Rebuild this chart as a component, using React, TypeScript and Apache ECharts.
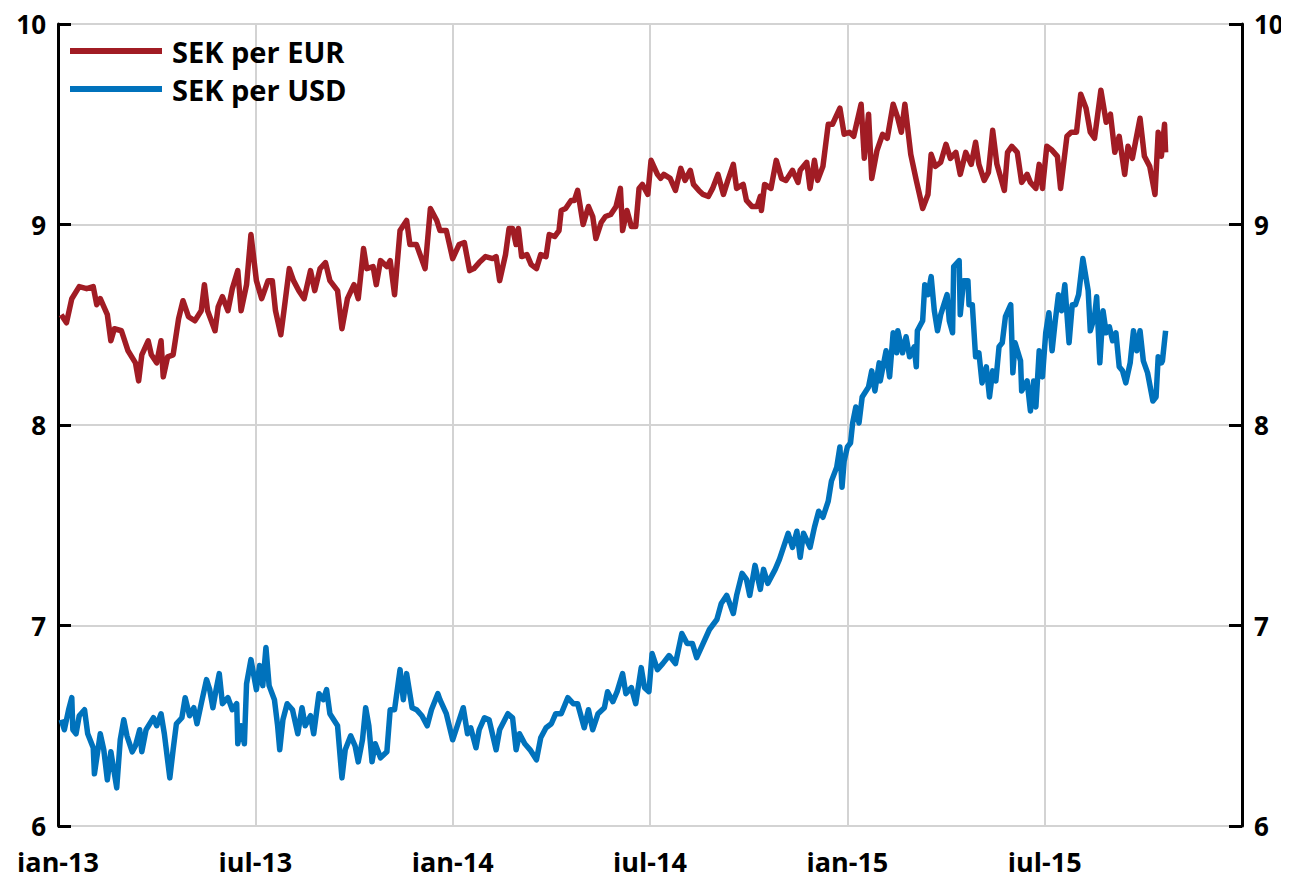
import React, { useEffect, useRef } from "react";
import * as echarts from "echarts";

// x positions are days since 1 Jan 2013
const seriesNames = ["SEK per EUR", "SEK per USD"];
const xTickLabels = ["jan-13", "jul-13", "jan-14", "jul-14", "jan-15", "jul-15"];
const yTicks = [6, 7, 8, 9, 10];

const eurSeries: [number, number][] = [
  [3,8.55],[8,8.51],[13,8.63],[20,8.69],[27,8.68],[33,8.69],[36,8.60],[39,8.63],[45,8.55],[48,8.42],[51,8.48],[57,8.47],[63,8.37],[70,8.31],[73,8.22],[76,8.35],[82,8.42],[85,8.35],[90,8.31],[94,8.42],[96,8.24],[100,8.34],[105,8.35],[110,8.53],[114,8.62],[119,8.54],[125,8.52],[131,8.57],[134,8.70],[137,8.57],[144,8.47],[147,8.59],[151,8.64],[156,8.57],[160,8.68],[165,8.77],[168,8.57],[173,8.70],[177,8.95],[182,8.72],[187,8.63],[193,8.72],[197,8.72],[200,8.57],[205,8.45],[208,8.57],[213,8.78],[217,8.72],[222,8.67],[227,8.63],[233,8.77],[237,8.67],[242,8.78],[247,8.81],[251,8.72],[258,8.67],[262,8.48],[267,8.63],[273,8.70],[277,8.63],[282,8.88],[285,8.78],[291,8.79],[294,8.70],[298,8.82],[304,8.79],[307,8.82],[311,8.65],[316,8.97],[322,9.02],[325,8.90],[331,8.90],[339,8.78],[344,9.08],[350,9.02],[353,8.97],[359,8.97],[365,8.83],[371,8.90],[376,8.91],[381,8.77],[385,8.78],[390,8.81],[396,8.84],[402,8.83],[405,8.84],[408,8.72],[413,8.85],[416,8.98],[419,8.98],[422,8.90],[424,8.98],[427,8.84],[432,8.85],[436,8.80],[441,8.78],[445,8.85],[450,8.84],[453,8.95],[458,8.94],[462,8.97],[464,9.07],[468,9.08],[473,9.12],[476,9.12],[479,9.17],[484,9.00],[489,9.09],[493,9.04],[496,8.93],[501,9.01],[505,9.04],[510,9.05],[515,9.09],[519,9.18],[521,8.97],[525,9.07],[529,8.99],[533,8.99],[536,9.18],[539,9.20],[544,9.15],[547,9.32],[553,9.25],[556,9.23],[559,9.25],[565,9.23],[570,9.17],[575,9.28],[579,9.22],[584,9.27],[587,9.20],[592,9.17],[596,9.15],[601,9.14],[605,9.18],[610,9.25],[615,9.15],[619,9.22],[624,9.30],[627,9.18],[633,9.20],[636,9.12],[641,9.09],[646,9.09],[649,9.14],[650,9.07],[653,9.20],[659,9.18],[664,9.32],[669,9.23],[673,9.22],[679,9.27],[684,9.21],[686,9.27],[692,9.31],[695,9.18],[699,9.32],[702,9.22],[707,9.29],[712,9.50],[716,9.50],[723,9.58],[727,9.45],[732,9.46],[736,9.44],[743,9.60],[746,9.33],[750,9.55],[753,9.23],[758,9.37],[763,9.45],[767,9.43],[772,9.60],[776,9.53],[779,9.46],[782,9.60],[787,9.35],[792,9.22],[798,9.08],[803,9.15],[806,9.35],[810,9.29],[815,9.31],[820,9.40],[824,9.33],[829,9.36],[833,9.25],[838,9.36],[843,9.30],[847,9.41],[850,9.30],[855,9.22],[859,9.26],[863,9.47],[867,9.30],[874,9.17],[877,9.36],[881,9.39],[886,9.36],[890,9.21],[895,9.25],[898,9.21],[903,9.18],[906,9.30],[909,9.18],[913,9.39],[918,9.37],[923,9.34],[926,9.18],[932,9.44],[936,9.46],[941,9.46],[945,9.65],[950,9.58],[954,9.46],[958,9.43],[964,9.67],[969,9.51],[973,9.55],[977,9.36],[981,9.44],[986,9.25],[989,9.39],[993,9.33],[1000,9.53],[1004,9.34],[1009,9.29],[1014,9.15],[1017,9.46],[1020,9.34],[1023,9.50],[1024,9.36]
];

const usdSeries: [number, number][] = [
  [3,6.53],[6,6.48],[10,6.58],[13,6.64],[14,6.48],[17,6.46],[20,6.55],[25,6.58],[28,6.46],[33,6.39],[34,6.26],[39,6.46],[42,6.38],[45,6.23],[48,6.37],[53,6.19],[56,6.43],[59,6.53],[62,6.45],[67,6.37],[70,6.40],[74,6.48],[76,6.37],[80,6.48],[87,6.54],[90,6.50],[94,6.56],[97,6.46],[102,6.24],[105,6.38],[108,6.51],[113,6.54],[116,6.64],[120,6.55],[124,6.59],[127,6.51],[131,6.61],[136,6.73],[139,6.68],[142,6.59],[145,6.68],[148,6.76],[151,6.61],[156,6.64],[160,6.58],[164,6.61],[165,6.41],[168,6.50],[171,6.41],[173,6.71],[177,6.83],[182,6.68],[185,6.80],[188,6.70],[191,6.89],[194,6.70],[199,6.63],[202,6.50],[204,6.38],[207,6.53],[211,6.61],[216,6.58],[221,6.46],[225,6.59],[228,6.50],[233,6.55],[236,6.46],[241,6.66],[245,6.63],[248,6.68],[251,6.56],[258,6.50],[262,6.24],[265,6.38],[270,6.45],[274,6.40],[277,6.32],[281,6.43],[284,6.59],[287,6.50],[290,6.32],[293,6.41],[298,6.34],[304,6.37],[307,6.58],[311,6.58],[316,6.78],[319,6.63],[322,6.76],[327,6.59],[331,6.58],[336,6.55],[341,6.50],[345,6.58],[351,6.66],[353,6.63],[359,6.56],[365,6.43],[370,6.51],[375,6.59],[379,6.46],[382,6.49],[387,6.39],[390,6.48],[395,6.54],[399,6.53],[405,6.38],[408,6.48],[415,6.56],[419,6.54],[422,6.38],[425,6.46],[430,6.41],[435,6.38],[441,6.33],[445,6.44],[450,6.49],[455,6.51],[459,6.56],[464,6.56],[470,6.64],[475,6.61],[479,6.61],[485,6.49],[489,6.58],[493,6.48],[498,6.56],[504,6.59],[507,6.67],[512,6.62],[516,6.67],[521,6.76],[524,6.66],[529,6.69],[533,6.61],[538,6.79],[541,6.69],[545,6.67],[548,6.86],[553,6.78],[558,6.81],[564,6.85],[570,6.81],[576,6.96],[581,6.91],[586,6.91],[590,6.84],[596,6.91],[602,6.98],[609,7.03],[613,7.11],[618,7.15],[624,7.06],[627,7.15],[632,7.26],[636,7.23],[639,7.15],[644,7.30],[649,7.18],[652,7.28],[656,7.21],[663,7.28],[667,7.33],[675,7.46],[679,7.39],[683,7.47],[686,7.34],[689,7.46],[695,7.39],[699,7.49],[703,7.57],[707,7.54],[712,7.62],[715,7.72],[720,7.79],[723,7.89],[725,7.69],[727,7.82],[730,7.89],[733,7.91],[735,8.01],[738,8.09],[741,8.01],[744,8.14],[750,8.19],[753,8.27],[756,8.17],[760,8.31],[761,8.22],[766,8.37],[769,8.24],[772,8.46],[775,8.36],[776,8.47],[780,8.36],[783,8.44],[786,8.34],[790,8.39],[792,8.29],[793,8.47],[798,8.52],[800,8.70],[803,8.65],[806,8.74],[809,8.57],[812,8.47],[815,8.55],[818,8.60],[821,8.65],[823,8.52],[826,8.46],[827,8.79],[832,8.82],[833,8.55],[836,8.72],[840,8.72],[841,8.60],[844,8.60],[847,8.34],[850,8.36],[853,8.21],[857,8.29],[860,8.14],[863,8.27],[866,8.22],[869,8.39],[872,8.41],[875,8.54],[880,8.60],[882,8.26],[884,8.41],[889,8.32],[890,8.17],[895,8.22],[898,8.07],[901,8.22],[903,8.09],[906,8.37],[909,8.24],[912,8.46],[915,8.56],[918,8.37],[921,8.52],[924,8.65],[927,8.57],[930,8.70],[934,8.41],[937,8.60],[940,8.60],[943,8.65],[947,8.83],[952,8.67],[954,8.47],[958,8.54],[960,8.64],[963,8.31],[966,8.57],[969,8.46],[972,8.49],[975,8.42],[978,8.46],[981,8.29],[984,8.27],[987,8.21],[991,8.31],[994,8.47],[997,8.37],[1000,8.47],[1003,8.32],[1007,8.26],[1012,8.12],[1015,8.14],[1017,8.34],[1020,8.31],[1021,8.32],[1024,8.47]
];

const colors = ["#A11C24", "#0072BC"];
const FONT = "'Open Sans', 'Noto Sans', sans-serif";

// fractional month index since Jan 2013
function dayToMonthIndex(day: number): number {
  const dt = new Date(Date.UTC(2013, 0, 1 + day));
  const y = dt.getUTCFullYear();
  const m = dt.getUTCMonth();
  const dim = new Date(Date.UTC(y, m + 1, 0)).getUTCDate();
  return (y - 2013) * 12 + m + (dt.getUTCDate() - 1) / dim;
}

function toPoints(s: [number, number][]) {
  return s.map(([d, v]) => [dayToMonthIndex(d), v]);
}

export default function App() {
  const ref = useRef<HTMLDivElement>(null);
  useEffect(() => {
    if (!ref.current) return;
    const chart = echarts.init(ref.current, undefined, { renderer: "svg" });
    const yAxisBase = {
      type: "value" as const,
      min: yTicks[0],
      max: yTicks[yTicks.length - 1],
      interval: 1,
      axisLine: { show: true, lineStyle: { color: "#000", width: 3 } },
      axisTick: { show: true, inside: true, length: 13, lineStyle: { color: "#000", width: 3 } },
      axisLabel: {
        fontFamily: FONT,
        fontWeight: "bold" as const,
        fontSize: 26,
        lineHeight: 26,
        color: "#000",
        margin: 12,
      },
    };
    chart.setOption({
      animation: false,
      backgroundColor: "#fff",
      color: colors,
      grid: { left: 58, right: 47, top: 24, bottom: 54, containLabel: false },
      legend: {
        orient: "vertical",
        left: 70,
        top: 36,
        padding: 0,
        icon: "rect",
        itemWidth: 92,
        itemHeight: 6,
        itemGap: 8,
        data: seriesNames,
        textStyle: {
          fontFamily: FONT,
          fontWeight: "bold",
          fontSize: 29,
          color: "#000",
          lineHeight: 30,
          padding: [0, 0, 0, 5],
        },
      },
      xAxis: {
        type: "value",
        min: 0,
        max: 36,
        interval: 6,
        axisLine: { show: false },
        axisTick: { show: false },
        splitLine: { show: true, lineStyle: { color: "#D3D3D3", width: 2 } },
        axisLabel: {
          fontFamily: FONT,
          fontWeight: "bold",
          fontSize: 27,
          lineHeight: 27,
          color: "#000",
          margin: 22,
          formatter: (v: number) => {
            const i = Math.round(v / 6);
            return Math.abs(v - i * 6) < 1e-6 && i < xTickLabels.length ? xTickLabels[i] : "";
          },
        },
      },
      yAxis: [
        {
          ...yAxisBase,
          position: "left",
          splitLine: { show: true, lineStyle: { color: "#D3D3D3", width: 2 } },
        },
        {
          ...yAxisBase,
          position: "right",
          splitLine: { show: false },
        },
      ],
      series: [
        {
          name: seriesNames[0],
          type: "line",
          data: toPoints(eurSeries),
          showSymbol: false,
          symbol: "none",
          lineStyle: { width: 5.5, color: colors[0], join: "round" },
          z: 3,
        },
        {
          name: seriesNames[1],
          type: "line",
          data: toPoints(usdSeries),
          showSymbol: false,
          symbol: "none",
          lineStyle: { width: 5.5, color: colors[1], join: "round" },
          z: 3,
        },
      ],
    });
    return () => chart.dispose();
  }, []);
  return <div ref={ref} style={{ width: 1289, height: 880, margin: -8 }} />;
}
